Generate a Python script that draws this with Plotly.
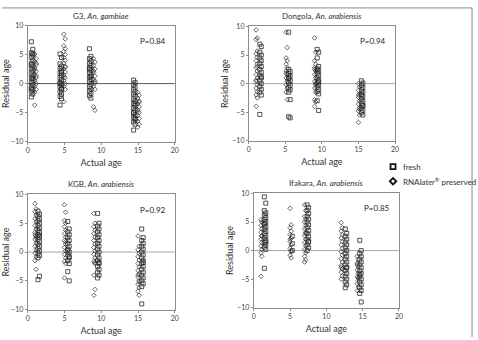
import plotly.graph_objects as go

# ---------------- data: (actual age, [residual ages]) ----------------
g3_fresh = [
    (0.5, [7.2, 5.3, 4.5, 3.5, 2.6, 1.8, 1.0, 0.2, -0.6, -1.4, -2.3, 3.2, -0.9]),
    (0.7, [5.9, 4.9, 4.0, 3.0, 2.2, 1.4, 0.6, -0.2, -1.0, -1.8, 5.1, 0.9]),
    (4.4, [5.1, 3.4, 2.6, 1.8, 1.0, 0.2, -0.6, -1.4, -2.2, -3.7, 0.0]),
    (4.6, [4.5, 3.0, 2.2, 1.4, 0.6, -0.2, -1.0, -1.8, -2.6, 2.0, -0.9]),
    (8.4, [6.0, 4.3, 3.5, 2.7, 1.9, 1.1, 0.3, -0.5, -1.3, -2.1, 2.5]),
    (8.6, [4.7, 3.9, 3.1, 2.3, 1.5, 0.7, -0.1, -0.9, -1.7, -2.5, 1.2]),
    (14.4, [0.6, -0.2, -1.0, -1.8, -2.6, -3.4, -4.2, -5.0, -5.8, -6.6, -8.0, -5.0]),
    (14.6, [0.2, -0.6, -1.4, -2.2, -3.0, -3.8, -4.6, -5.4, -6.2, -7.0, -3.5, -6.0]),
]
g3_rna = [
    (0.95, [5.1, 3.8, 2.7, 1.6, 0.5, -0.5, -1.5, -3.7, 2.4]),
    (1.15, [4.3, 3.2, 2.1, 1.0, 0.0, -1.0, 3.5, 1.3]),
    (4.9, [8.5, 6.5, 5.5, 4.5, 3.5, 2.5, 1.5, 0.5, -0.5, -3.1, 1.2]),
    (5.1, [7.7, 6.0, 5.0, 4.0, 3.0, 2.0, 1.0, 0.0, -1.0, 2.8]),
    (8.95, [4.3, 3.1, 1.9, 0.7, -0.5, -4.0, 2.2]),
    (9.15, [3.7, 2.5, 1.3, 0.1, -1.0, -4.6, 0.4]),
    (14.95, [-1.5, -2.5, -3.5, -4.5, -5.5, -6.5, -7.5, -4.8]),
    (15.15, [-2.0, -3.0, -4.0, -5.0, -6.0, -7.0, -3.2]),
]

dongola_fresh = [
    (1.5, [6.9, 5.5, 4.5, 3.5, 2.5, 1.5, 0.5, -0.5, -1.5, -5.4]),
    (1.7, [6.5, 5.0, 4.0, 3.0, 2.0, 1.0, 0.0, -1.0, -2.0, 1.2]),
    (5.45, [9.0, 2.5, 1.7, 0.9, 0.1, -0.7, -1.5, -5.8, 1.0]),
    (5.65, [2.1, 1.3, 0.5, -0.3, -1.1, -2.8, -6.0]),
    (9.35, [6.0, 4.5, 2.6, 1.8, 1.0, 0.2, -0.6, -1.4, -3.0, 2.4]),
    (9.55, [5.5, 3.0, 2.2, 1.4, 0.6, -0.2, -1.0, -1.8, -4.7, 0.3]),
    (15.4, [0.5, -0.3, -1.1, -1.9, -2.7, -3.5, -4.3, -5.1, -2.0]),
    (15.6, [0.1, -0.7, -1.5, -2.3, -3.1, -3.9, -4.7, -5.5, -3.8]),
]
dongola_rna = [
    (1.0, [9.4, 7.7, 5.2, 4.0, 2.8, 1.6, 0.4, -0.8, -2.0, -4.0, 0.6]),
    (1.15, [8.0, 5.7, 4.6, 3.4, 2.2, 1.0, -0.2, -1.4, -2.5, 3.0]),
    (5.1, [9.0, 4.5, 3.4, 2.2, 1.0, -0.2, -1.5, 1.8]),
    (5.25, [6.3, 4.0, 2.8, 1.6, 0.4, -0.8, -2.8]),
    (9.0, [8.0, 4.0, 2.8, 1.6, 0.4, -0.8, -2.8, -4.0, 2.5]),
    (9.15, [5.5, 3.4, 2.2, 1.0, -0.2, -1.5, -3.2, 0.0]),
    (15.0, [0.0, -1.2, -2.4, -3.6, -4.8, -6.8, -2.0]),
    (15.15, [-0.6, -1.8, -3.0, -4.2, -5.5, -4.5]),
]

kgb_fresh = [
    (1.4, [7.1, 6.2, 5.4, 4.6, 3.8, 3.0, 2.2, 1.4, 0.6, -0.2, -1.0, -4.8]),
    (1.6, [6.6, 5.8, 5.0, 4.2, 3.4, 2.6, 1.8, 1.0, 0.2, -0.6, -4.2, 2.9]),
    (5.45, [5.3, 3.5, 2.5, 1.5, 0.5, -0.5, -1.5, -3.4, 0.3]),
    (5.65, [4.0, 3.0, 2.0, 1.0, 0.0, -1.0, -2.0, -5.0, -0.8]),
    (9.5, [6.7, 4.5, 3.5, 2.5, 1.5, 0.5, -0.5, -1.5, -2.5, -3.5, -4.5]),
    (9.7, [5.0, 4.0, 3.0, 2.0, 1.0, 0.0, -1.0, -2.0, -3.0, -4.0, -1.8]),
    (15.5, [4.0, 2.0, 1.0, 0.0, -1.0, -2.0, -3.0, -4.0, -5.0, -6.0, -9.0]),
    (15.7, [2.5, 1.5, 0.5, -0.5, -1.5, -2.5, -3.5, -4.5, -5.5, -1.8]),
]
kgb_rna = [
    (1.0, [8.4, 7.0, 5.8, 4.6, 3.4, 2.2, 1.0, -0.2, -1.5, 3.0]),
    (1.15, [7.5, 6.4, 5.2, 4.0, 2.8, 1.6, 0.4, -0.8, -3.0, 2.5]),
    (5.0, [8.2, 5.5, 4.4, 3.2, 2.0, 0.8, -0.4, -1.6, -4.5]),
    (5.15, [6.9, 5.0, 3.8, 2.6, 1.4, 0.2, -1.0, -2.0, 1.8]),
    (9.0, [6.7, 4.4, 3.2, 2.0, 0.8, -0.4, -1.6, -4.0, -7.5]),
    (9.15, [5.0, 3.8, 2.6, 1.4, 0.2, -1.0, -2.0, -6.5, -1.8]),
    (15.0, [2.8, 0.4, -0.8, -2.0, -3.2, -4.4, -5.6, -6.8, -4.0]),
    (15.15, [1.0, -0.2, -1.4, -2.6, -3.8, -5.0, -6.2, -7.5, -5.2]),
]

ifakara_fresh = [
    (1.45, [9.4, 7.0, 6.2, 5.4, 4.6, 3.8, 3.0, 2.2, 1.4, 0.6, -3.1, 4.8]),
    (1.65, [8.3, 6.6, 5.8, 5.0, 4.2, 3.4, 2.6, 1.8, 1.0, 0.2, 1.5]),
    (5.3, [2.5, 1.2, 0.0]),
    (7.35, [8.0, 7.0, 6.0, 5.0, 4.0, 3.0, 2.0, 1.0, 0.0]),
    (7.55, [7.5, 6.5, 5.5, 4.5, 3.5, 2.5, 1.5, 0.5, 1.6]),
    (12.6, [3.8, 2.5, 1.5, 0.5, -0.5, -1.5, -2.5, -3.5, -4.5, -5.5, -6.5]),
    (12.8, [3.0, 2.0, 1.0, 0.0, -1.0, -2.0, -3.0, -4.0, -5.0, -6.0, -3.0]),
    (14.6, [1.8, -0.5, -1.5, -2.5, -3.5, -4.5, -5.5, -6.5, -7.5, -4.2]),
    (14.8, [0.0, -1.0, -2.0, -3.0, -4.0, -5.0, -6.0, -7.0, -9.0]),
]
ifakara_rna = [
    (1.0, [5.4, 4.4, 3.2, 2.0, 0.8, -0.4, -4.5]),
    (1.1, [5.0, 3.8, 2.6, 1.4, 0.2, -1.0, 2.5]),
    (5.0, [7.4, 4.0, 2.8, 1.6, 0.4, -0.8, 2.0]),
    (5.15, [4.5, 3.4, 2.2, 1.0, -0.2, -1.3, 0.0]),
    (7.0, [8.0, 6.0, 5.0, 3.8, 2.6, 1.4, 0.2, -1.0, -2.0]),
    (7.15, [7.0, 5.5, 4.4, 3.2, 2.0, 0.8, -0.4, -1.6, 3.0]),
    (12.05, [4.9, 3.4, 2.2, 1.0, -0.2, -1.4, -2.6, -3.8, -5.0, -2.9]),
    (12.2, [4.0, 2.8, 1.6, 0.4, -0.8, -2.0, -3.2, -4.4, -3.2]),
    (14.25, [-1.0, -2.2, -3.4, -4.6, -5.8, -7.0, -2.5]),
    (14.4, [-1.6, -2.8, -4.0, -5.2, -6.4, -4.8]),
]

titles = ["G3, <i>An. gambiae</i>", "Dongola, <i>An. arabiensis</i>",
          "KGB, <i>An. arabiensis</i>", "Ifakara, <i>An. arabiensis</i>"]
p_values = ["P=0.84", "P=0.94", "P=0.92", "P=0.85"]
x_ticks = [0, 5, 10, 15, 20]
y_ticks = [-10, -5, 0, 5, 10]
legend_labels = ["RNA<i>later</i><sup>®</sup> preserved", "fresh"]

panels = [(g3_fresh, g3_rna), (dongola_fresh, dongola_rna),
          (kgb_fresh, kgb_rna), (ifakara_fresh, ifakara_rna)]

# ---------------- layout geometry (pixels) ----------------
W, H = 478, 340
boxes = [(26, 175, 21, 140), (250, 398, 22, 139), (26, 175, 194, 312), (255, 402, 193, 310)]
zero_colors = ["#555555", "#a8a8a8", "#a8a8a8", "#a8a8a8"]

FONT = "Lato, Open Sans, sans-serif"
SQ = dict(symbol="square-open", size=4, color="#2a2a2a", line=dict(width=0.8))
DI = dict(symbol="diamond-open", size=3.5, color="#2a2a2a", line=dict(width=0.7))
fig = go.Figure()


def expand(series):
    xs, ys = [], []
    for age, vals in series:
        for v in vals:
            xs.append(age)
            ys.append(v)
    return xs, ys


annotations = []
shapes = []
for i, ((fresh, rna), (x0, x1, y0, y1)) in enumerate(zip(panels, boxes)):
    ax = "" if i == 0 else str(i + 1)
    fx, fy = expand(fresh)
    rx, ry = expand(rna)
    fig.add_trace(go.Scatter(x=rx, y=ry, mode="markers", marker=DI,
                             xaxis="x" + ax, yaxis="y" + ax, showlegend=False))
    fig.add_trace(go.Scatter(x=fx, y=fy, mode="markers", marker=SQ,
                             xaxis="x" + ax, yaxis="y" + ax, showlegend=False))

    axis_common = dict(showline=True, mirror=True, linecolor="#8c8c8c", linewidth=1,
                       showgrid=False, zeroline=False, ticks="outside", ticklen=2,
                       tickcolor="#8c8c8c", tickfont=dict(size=7, color="#444444", family=FONT))
    fig.layout["xaxis" + ax] = dict(
        domain=[x0 / W, x1 / W], range=[0, 20], tickvals=x_ticks,
        anchor="y" + ax, title=dict(text="Actual age", font=dict(size=9, color="#333333", family=FONT),
                                     standoff=6), **axis_common)
    fig.layout["yaxis" + ax] = dict(
        domain=[1 - y1 / H, 1 - y0 / H], range=[-10, 10], tickvals=y_ticks,
        anchor="x" + ax, title=dict(text="Residual age", font=dict(size=9, color="#333333", family=FONT),
                                     standoff=2), **axis_common)
    shapes.append(dict(type="line", xref="x" + ax, yref="y" + ax, x0=0, x1=20, y0=0, y1=0,
                       line=dict(color=zero_colors[i], width=1), layer="below"))
    annotations.append(dict(text=titles[i], xref="x" + ax + " domain", yref="y" + ax + " domain",
                            x=0.5, y=1.0, yanchor="bottom", yshift=3, showarrow=False,
                            font=dict(size=8, color="#333333", family=FONT)))
    annotations.append(dict(text=p_values[i], xref="x" + ax + " domain", yref="y" + ax + " domain",
                            x=0.955, y=0.93, xanchor="right", showarrow=False,
                            font=dict(size=8, color="#222222", family=FONT)))

# ---------------- manual legend on a hidden axis ----------------
fig.add_trace(go.Scatter(x=[0.5], y=[legend_labels[1]], mode="markers",
                         marker=dict(symbol="square-open", size=5, color="#111111", line=dict(width=1.8)),
                         xaxis="x5", yaxis="y5", showlegend=False, hoverinfo="skip"))
fig.add_trace(go.Scatter(x=[0.5], y=[legend_labels[0]], mode="markers",
                         marker=dict(symbol="diamond-open", size=5, color="#111111", line=dict(width=1.8)),
                         xaxis="x5", yaxis="y5", showlegend=False, hoverinfo="skip"))
hidden = dict(visible=False, fixedrange=True)
fig.layout["xaxis5"] = dict(domain=[390 / W, 402 / W], range=[0, 1], anchor="y5", **hidden)
fig.layout["yaxis5"] = dict(domain=[1 - 188 / H, 1 - 158 / H], range=[-0.5, 1.5], anchor="x5",
                            type="category", categoryarray=legend_labels, **hidden)
for lab in legend_labels:
    annotations.append(dict(text=lab, xref="paper", yref="y5", x=404 / W, y=lab, xanchor="left",
                            showarrow=False, font=dict(size=8, color="#333333", family=FONT)))

# outer frame (top and right edges)
shapes.append(dict(type="line", xref="paper", yref="paper", x0=0, x1=476 / W, y0=1 - 3 / H, y1=1 - 3 / H,
                   line=dict(color="#8c8c8c", width=1)))
shapes.append(dict(type="line", xref="paper", yref="paper", x0=476 / W, x1=476 / W, y0=0, y1=1 - 3 / H,
                   line=dict(color="#8c8c8c", width=1)))

fig.update_layout(
    width=W, height=H, margin=dict(l=0, r=0, t=0, b=0),
    paper_bgcolor="white", plot_bgcolor="white",
    shapes=shapes, annotations=annotations, showlegend=False,
)

fig.write_html("out.html")
